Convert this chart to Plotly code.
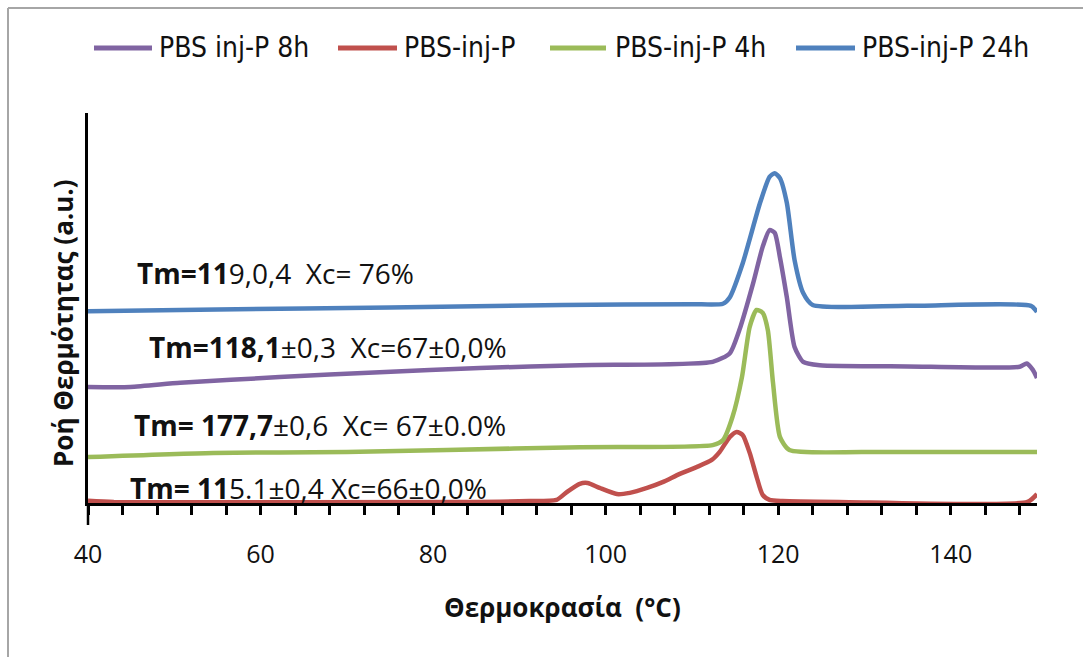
import plotly.graph_objects as go

# DSC melting curves (heat flow, arbitrary units, curves stacked vertically)
temp_8h = [40, 44.9, 50.7, 62.2, 73.8, 85.4, 97.0, 112.4, 114.4, 115.5, 117.1, 118.2,
           119.0, 119.6, 120.2, 121.0, 121.9, 122.9, 124.8, 135, 148.0, 148.8, 149.5, 150]
flow_8h = [33.5, 33.5, 34.5, 35.9, 37.1, 38.1, 38.8, 39.6, 41.7, 47.3, 58.7, 67.5,
           71.6, 70.9, 65.0, 55.3, 43.2, 39.6, 38.8, 38.5, 38.4, 39.2, 37.7, 35.7]

temp_0h = [40, 43, 85, 91.2, 94.3, 95.5, 97.0, 97.9, 99.3, 101.3, 102.8, 104.8, 106.6,
           108.6, 110.6, 112.3, 113.2, 114.4, 115.2, 115.9, 116.7, 117.5, 118.2, 119.0,
           120.5, 127, 148.9, 150]
flow_0h = [5.9, 5.6, 5.6, 5.8, 6.1, 8.0, 10.0, 10.2, 9.0, 7.5, 7.8, 9.0, 10.4,
           12.4, 14.1, 15.8, 17.7, 21.4, 22.6, 21.8, 17.5, 11.7, 7.3, 6.1,
           5.8, 5.6, 5.6, 7.5]

temp_4h = [40, 54.5, 70.0, 81.6, 97.0, 112.4, 113.6, 114.7, 115.8, 116.7, 117.5, 118.2,
           118.8, 119.4, 120.2, 121.3, 130, 150]
flow_4h = [16.5, 17.5, 17.7, 18.2, 18.9, 19.4, 20.6, 26.2, 35.9, 48.1, 52.2, 51.5,
           47.3, 34.5, 21.4, 18.2, 17.7, 17.7]

temp_24h = [40, 55, 75, 95, 110, 113.6, 114.4, 115.9, 117.9, 119.0, 119.6, 120.2, 121.0,
            121.9, 122.9, 124.0, 135, 149.3, 150]
flow_24h = [51.9, 52.3, 52.8, 53.4, 53.6, 53.7, 55.3, 63.6, 78.2, 84.5, 85.4, 84.2, 78.2,
            64.3, 56.3, 53.4, 53.2, 53.2, 51.7]

series_names = ["PBS inj-P 8h", "PBS-inj-P", "PBS-inj-P 4h", "PBS-inj-P 24h"]
series_colors = ["#8064A2", "#C0504D", "#9BBB59", "#4F81BD"]
series_x = [temp_8h, temp_0h, temp_4h, temp_24h]
series_y = [flow_8h, flow_0h, flow_4h, flow_24h]

x_ticks = [40, 60, 80, 100, 120, 140]

NB = "\u00a0"
labels = [
    (f"<b>Tm=11</b>9,0,4{NB}{NB}Xc={NB}76%", 45.4, 61.2),
    (f"<b>Tm=118,1</b>±0,3{NB}{NB}Xc=67±0,0%", 46.8, 43.2),
    (f"<b>Tm={NB}177,7</b>±0,6{NB}{NB}Xc={NB}67±0.0%", 45.1, 24.3),
    (f"<b>Tm={NB}11</b>5.1±0,4{NB}Xc=66±0,0%", 44.6, 9.0),
]

TEXT_FONT = "Open Sans, Noto Sans, DejaVu Sans, sans-serif"
LEGEND_FONT = "DejaVu Sans Condensed, Liberation Sans, sans-serif"

W, H = 1083, 657
ML, MR, MT, MB = 88, 46, 113, 154
PW, PH = W - ML - MR, H - MT - MB


def px_x(p):
    return (p - ML) / PW


def px_y(p):
    return (H - MB - p) / PH


fig = go.Figure()
for name, color, xs, ys in zip(series_names, series_colors, series_x, series_y):
    fig.add_trace(go.Scatter(
        x=xs, y=ys, name=name, mode="lines",
        line=dict(color=color, width=4.5, shape="spline", smoothing=0.6),
        showlegend=False,
    ))

shapes = []
annotations = []

# Legend drawn as line samples and labels across the top
legend_items = [(94, 152, 157), (338, 397, 402), (550, 606, 613), (796, 855, 860)]
for (x0, x1, xt), name, color in zip(legend_items, series_names, series_colors):
    shapes.append(dict(type="line", xref="paper", yref="paper",
                       x0=px_x(x0), x1=px_x(x1), y0=px_y(48), y1=px_y(48),
                       line=dict(color=color, width=5)))
    annotations.append(dict(text=name, xref="paper", yref="paper",
                            x=px_x(xt), y=px_y(48), xanchor="left", yanchor="middle",
                            showarrow=False,
                            font=dict(family=LEGEND_FONT, size=28, color="#111111")))

for text, lx, ly in labels:
    annotations.append(dict(text=text, x=lx, y=ly, xref="x", yref="y",
                            xanchor="left", yanchor="middle", showarrow=False,
                            font=dict(family=TEXT_FONT, size=28, color="#111111")))

# Axis titles
annotations.append(dict(text="<b>Θερμοκρασία" + NB + " (°C)</b>", xref="paper", yref="paper",
                        x=px_x(562), y=px_y(607), xanchor="center", yanchor="middle",
                        showarrow=False, font=dict(family=TEXT_FONT, size=26, color="#111111")))
annotations.append(dict(text="<b>Ροή Θερμότητας (a.u.)</b>", xref="paper", yref="paper",
                        x=px_x(63), y=px_y(323), xanchor="center", yanchor="middle",
                        textangle=-90, showarrow=False,
                        font=dict(family=TEXT_FONT, size=26, color="#111111")))

# Y axis continues a little below the horizontal axis
shapes.append(dict(type="line", xref="paper", yref="paper",
                   x0=0, x1=0, y0=0, y1=px_y(525),
                   line=dict(color="black", width=2.5)))

# Chart area border (left and top edges)
shapes.append(dict(type="line", xref="paper", yref="paper",
                   x0=px_x(8), x1=px_x(8), y0=px_y(8), y1=px_y(H + 2),
                   line=dict(color="#A6A6A6", width=2)))
shapes.append(dict(type="line", xref="paper", yref="paper",
                   x0=px_x(8), x1=px_x(W + 2), y0=px_y(8), y1=px_y(8),
                   line=dict(color="#A6A6A6", width=2)))

fig.update_layout(
    width=W, height=H,
    margin=dict(l=ML, r=MR, t=MT, b=MB, pad=0),
    paper_bgcolor="white", plot_bgcolor="white",
    shapes=shapes, annotations=annotations,
    showlegend=False,
)
fig.update_xaxes(
    range=[40, 150], tickvals=x_ticks, ticktext=[str(v) for v in x_ticks],
    showline=True, linecolor="black", linewidth=2.5,
    ticks="outside", ticklen=9, tickwidth=2.5, tickcolor="black",
    minor=dict(dtick=4, tick0=40, ticks="outside", ticklen=9, tickwidth=2.5, tickcolor="black"),
    showgrid=False, zeroline=False,
    tickfont=dict(family=TEXT_FONT, size=25, color="#111111"),
    ticklabelstandoff=18,
)
fig.update_yaxes(
    range=[5.34, 100], showline=True, linecolor="black", linewidth=2.5,
    showticklabels=False, ticks="", showgrid=False, zeroline=False,
)

fig.write_html("out.html")
